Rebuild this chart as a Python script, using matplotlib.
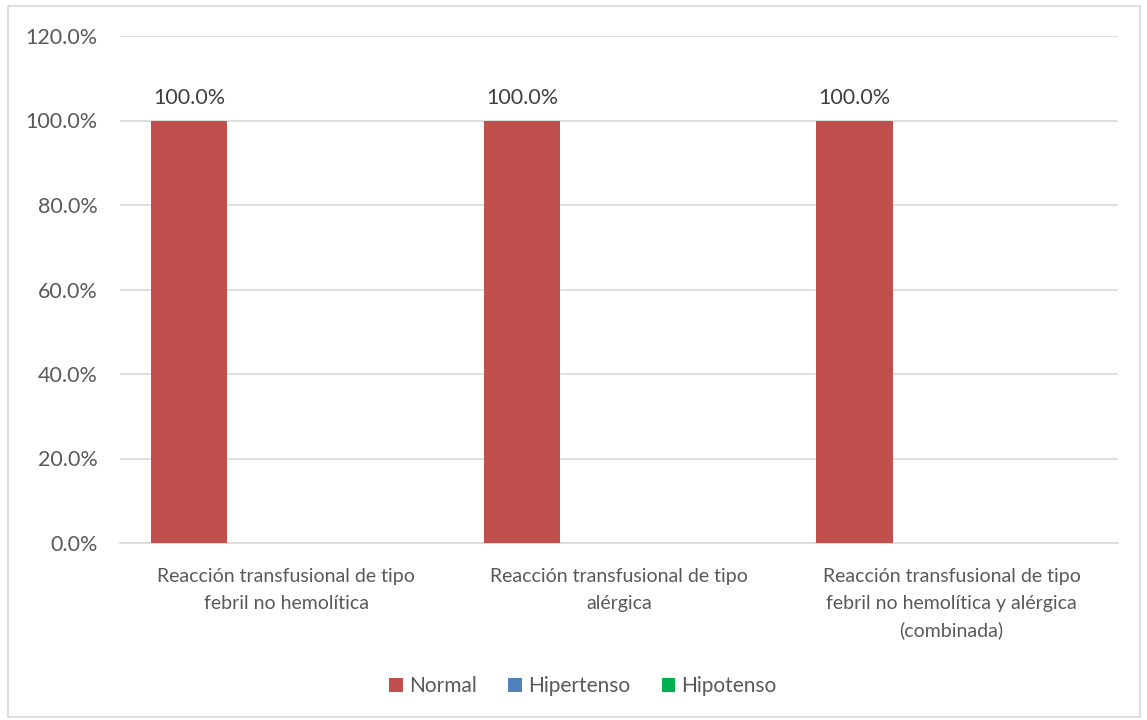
import numpy as np
import matplotlib.pyplot as plt
from matplotlib.patches import Patch, Rectangle
from matplotlib.ticker import FuncFormatter

categorias = [
    "Reacción transfusional de tipo\nfebril no hemolítica",
    "Reacción transfusional de tipo\nalérgica",
    "Reacción transfusional de tipo\nfebril no hemolítica y alérgica\n(combinada)",
]
series = ["Normal", "Hipertenso", "Hipotenso"]
normal = [100.0, 100.0, 100.0]
hipertenso = [0.0, 0.0, 0.0]
hipotenso = [0.0, 0.0, 0.0]
colores = ["#C0504D", "#4F81BD", "#00B050"]

plt.rcParams['font.family'] = ['Lato', 'DejaVu Sans']
gris = "#595959"

fig = plt.figure(figsize=(11.47, 7.2), dpi=100)
W, H = 1147, 720
ax = fig.add_axes([120 / W, 1 - 543 / H, (1118 - 120) / W, (543 - 36) / H])

# marco del grafico
fig.patches.append(Rectangle((8 / W, 3 / H), 1132 / W, 711 / H, transform=fig.transFigure,
                             fill=False, edgecolor="#D9D9D9", linewidth=1.2))

x = np.arange(len(categorias))
ancho = 0.23
inicio = -0.292
for i, (nombre, vals) in enumerate(zip(series, [normal, hipertenso, hipotenso])):
    barras = ax.bar(x + inicio + i * ancho, vals, ancho, color=colores[i], label=nombre,
                    linewidth=0, zorder=3)
    for b, v in zip(barras, vals):
        if v > 0:
            ax.text(b.get_x() + b.get_width() / 2, v + 3.0, f"{v:.1f}%", ha="center",
                    va="bottom", fontsize=15.5, color="#404040")

ax.set_xlim(-0.5, 2.5)
ax.set_ylim(0, 120)
ax.set_yticks(np.arange(0, 121, 20))
ax.yaxis.set_major_formatter(FuncFormatter(lambda v, p: f"{v:.1f}%"))
ax.set_xticks(x)
ax.set_xticklabels(categorias, linespacing=1.68, fontsize=14)
ax.tick_params(axis="both", length=0, labelcolor=gris)
ax.tick_params(axis="y", pad=16, labelsize=15.5)
ax.tick_params(axis="x", pad=18)
ax.grid(axis="y", color="#D9D9D9", linewidth=1.2, zorder=0)
for s in ["top", "right", "left"]:
    ax.spines[s].set_visible(False)
ax.spines["bottom"].set_color("#D9D9D9")
ax.spines["bottom"].set_linewidth(1.2)

handles = [Patch(facecolor=c, label=n) for c, n in zip(colores, series)]
leg = fig.legend(handles=handles, loc="center", bbox_to_anchor=(583 / W, 1 - 686 / H),
                 ncol=3, frameon=False, fontsize=15, handlelength=0.65, handleheight=0.65,
                 handletextpad=0.3, columnspacing=1.5)
for t in leg.get_texts():
    t.set_color(gris)

plt.savefig("out.png", dpi=100)
